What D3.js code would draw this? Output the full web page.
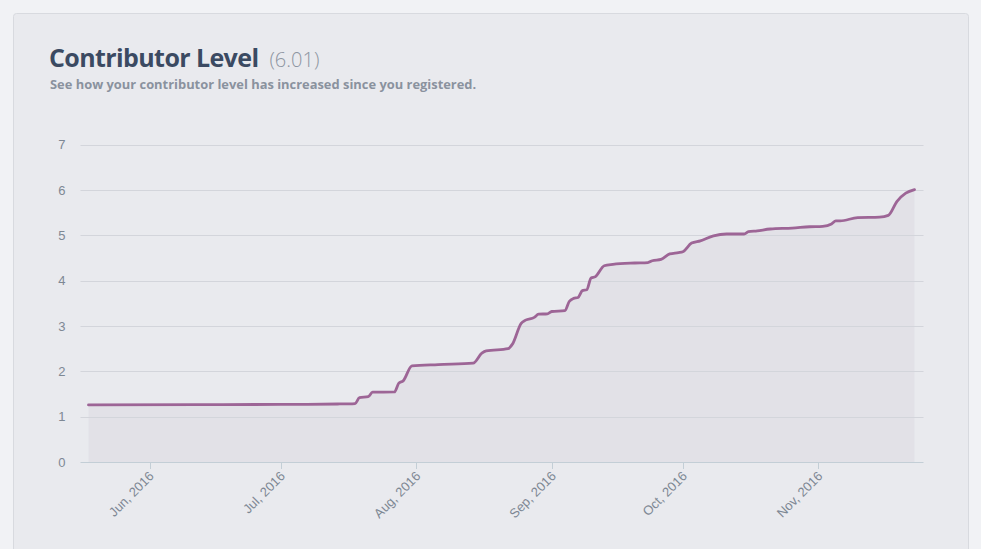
<!DOCTYPE html>
<html>
<head>
<meta charset="utf-8">
<script src="https://cdn.jsdelivr.net/npm/d3@7"></script>
<style>
  html, body { margin: 0; padding: 0; background: #f1f2f5; }
  body { width: 981px; height: 549px; overflow: hidden; }
  svg { display: block; }
</style>
</head>
<body>
<div id="chart"></div>
<script>
// Contributor level over time
const dates = [
  '2016-05-18', '2016-06-12', '2016-07-01', '2016-07-14', '2016-07-18', '2016-07-19',
  '2016-07-21', '2016-07-22', '2016-07-27', '2016-07-28', '2016-07-29', '2016-07-31',
  '2016-08-06', '2016-08-14', '2016-08-16', '2016-08-17', '2016-08-22', '2016-08-23',
  '2016-08-25', '2016-08-26', '2016-08-28', '2016-08-29', '2016-08-31', '2016-09-01',
  '2016-09-04', '2016-09-05', '2016-09-06', '2016-09-07', '2016-09-08', '2016-09-09',
  '2016-09-10', '2016-09-11', '2016-09-13', '2016-09-15', '2016-09-20', '2016-09-23',
  '2016-09-24', '2016-09-26', '2016-09-28', '2016-09-30', '2016-10-01', '2016-10-03',
  '2016-10-05', '2016-10-08', '2016-10-11', '2016-10-15', '2016-10-16', '2016-10-18',
  '2016-10-21', '2016-10-26', '2016-10-30', '2016-11-02', '2016-11-04', '2016-11-05',
  '2016-11-06', '2016-11-10', '2016-11-15', '2016-11-17', '2016-11-19', '2016-11-21',
  '2016-11-23'
];
const levels = [
  1.26, 1.265, 1.27, 1.28, 1.29, 1.42,
  1.44, 1.54, 1.545, 1.74, 1.79, 2.12,
  2.15, 2.18, 2.40, 2.45, 2.50, 2.60,
  3.06, 3.13, 3.19, 3.26, 3.27, 3.32,
  3.34, 3.54, 3.61, 3.63, 3.78, 3.80,
  4.06, 4.09, 4.33, 4.36, 4.39, 4.40,
  4.44, 4.47, 4.59, 4.62, 4.64, 4.83,
  4.88, 4.99, 5.03, 5.03, 5.08, 5.10,
  5.14, 5.16, 5.19, 5.20, 5.25, 5.32,
  5.32, 5.39, 5.40, 5.44, 5.75, 5.93,
  6.01
];
const yTicks = [0, 1, 2, 3, 4, 5, 6, 7];
const monthTicks = ['2016-06-01', '2016-07-01', '2016-08-01', '2016-09-01', '2016-10-01', '2016-11-01'];
const monthLabels = ['Jun, 2016', 'Jul, 2016', 'Aug, 2016', 'Sep, 2016', 'Oct, 2016', 'Nov, 2016'];
const currentLevel = '6.01';

const width = 981;
const height = 549;
const parse = d3.utcParse('%Y-%m-%d');
const data = dates.map((d, i) => ({ date: parse(d), value: levels[i] }));

const svg = d3.select('#chart')
  .append('svg')
  .attr('width', width)
  .attr('height', height);

// Card
svg.append('rect')
  .attr('x', 13.5)
  .attr('y', 13.5)
  .attr('width', 955)
  .attr('height', 560)
  .attr('rx', 3)
  .attr('fill', '#e9eaee')
  .attr('stroke', '#d8dadf');

// Title
const title = svg.append('text')
  .attr('x', 49)
  .attr('y', 67)
  .attr('font-family', '"Open Sans", sans-serif');

title.append('tspan')
  .attr('font-size', '25px')
  .attr('font-weight', 700)
  .attr('letter-spacing', '-0.6px')
  .attr('fill', '#3b4a62')
  .text('Contributor Level');

title.append('tspan')
  .attr('dx', 11)
  .attr('font-size', '20px')
  .attr('font-weight', 300)
  .attr('fill', '#8d95a1')
  .text(`(${currentLevel})`);

svg.append('text')
  .attr('x', 50)
  .attr('y', 89)
  .attr('font-family', '"Open Sans", sans-serif')
  .attr('font-size', '12.9px')
  .attr('font-weight', 700)
  .attr('fill', '#8a929e')
  .text('See how your contributor level has increased since you registered.');

// Scales
const x = d3.scaleUtc()
  .domain(d3.extent(data, d => d.date))
  .range([88.5, 914.5]);

const y = d3.scaleLinear()
  .domain([0, 7])
  .range([462, 144.7]);

const plotLeft = 80.5;
const plotRight = 923.5;

// Area under the line
svg.append('path')
  .datum(data)
  .attr('fill', '#e2e1e7')
  .attr('d', d3.area()
    .x(d => x(d.date))
    .y0(y(0))
    .y1(d => y(d.value))
    .curve(d3.curveMonotoneX));

// Gridlines
svg.selectAll('.grid')
  .data(yTicks.filter(t => t > 0))
  .enter()
  .append('line')
  .attr('class', 'grid')
  .attr('x1', plotLeft)
  .attr('x2', plotRight)
  .attr('y1', d => Math.round(y(d)) + 0.5)
  .attr('y2', d => Math.round(y(d)) + 0.5)
  .attr('stroke', '#d3d5db')
  .attr('stroke-width', 1);

// Y labels
svg.selectAll('.ylabel')
  .data(yTicks)
  .enter()
  .append('text')
  .attr('class', 'ylabel')
  .attr('x', 65.5)
  .attr('y', d => y(d) + 4.5)
  .attr('text-anchor', 'end')
  .attr('font-family', '"Liberation Sans", Arial, sans-serif')
  .attr('font-size', '13px')
  .attr('fill', '#7e8894')
  .text(d => d);

// X axis
svg.append('line')
  .attr('x1', plotLeft)
  .attr('x2', plotRight)
  .attr('y1', y(0) + 0.5)
  .attr('y2', y(0) + 0.5)
  .attr('stroke', '#c3ced6');

const ticks = monthTicks.map((d, i) => ({ date: parse(d), label: monthLabels[i] }));

svg.selectAll('.xtick')
  .data(ticks)
  .enter()
  .append('line')
  .attr('class', 'xtick')
  .attr('x1', d => Math.round(x(d.date)) + 0.5)
  .attr('x2', d => Math.round(x(d.date)) + 0.5)
  .attr('y1', y(0))
  .attr('y2', y(0) + 7)
  .attr('stroke', '#c3ced6');

svg.selectAll('.xlabel')
  .data(ticks)
  .enter()
  .append('text')
  .attr('class', 'xlabel')
  .attr('transform', d => `translate(${x(d.date) + 5}, ${y(0) + 15}) rotate(-45)`)
  .attr('text-anchor', 'end')
  .attr('font-family', '"Liberation Sans", Arial, sans-serif')
  .attr('font-size', '13px')
  .attr('fill', '#7e8894')
  .text(d => d.label);

// Line
svg.append('path')
  .datum(data)
  .attr('fill', 'none')
  .attr('stroke', '#9d6596')
  .attr('stroke-width', 2.8)
  .attr('stroke-linejoin', 'round')
  .attr('stroke-linecap', 'round')
  .attr('d', d3.line()
    .x(d => x(d.date))
    .y(d => y(d.value))
    .curve(d3.curveMonotoneX));
</script>
</body>
</html>
